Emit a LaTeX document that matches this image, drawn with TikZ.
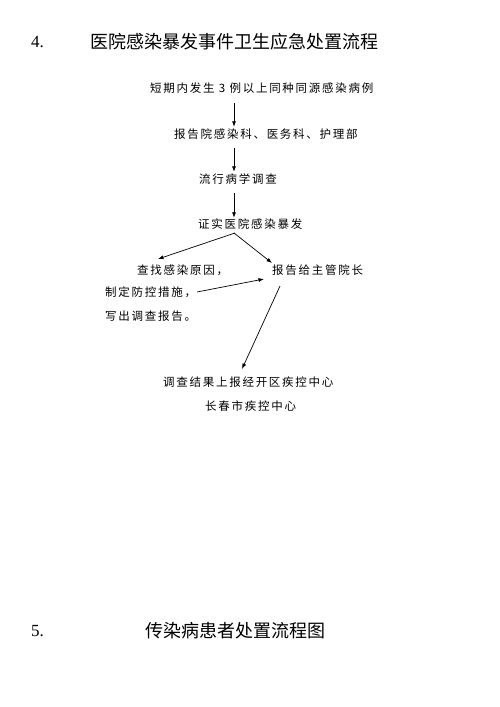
\documentclass[tikz,border=0pt]{standalone}
\usepackage{fontspec}
\setmainfont{Liberation Serif}
\newfontfamily\cjk{Noto Sans CJK SC}
\newfontfamily\cjksp[LetterSpace=15]{Noto Sans CJK SC}
\usetikzlibrary{arrows.meta}
\begin{document}
\begin{tikzpicture}[x=1pt,y=-1pt,
  titletext/.style={font=\cjk\fontsize{18}{20}\selectfont, anchor=west, inner sep=0},
  numtext/.style={font=\fontsize{17}{20}\selectfont, anchor=west, inner sep=0},
  flow/.style={font=\cjksp\fontsize{11.5}{13}\selectfont, anchor=west, inner sep=0, text height=9pt, text depth=2pt},
  arr/.style={-{Latex[length=5.5pt,width=4pt]}, line width=0.7pt}]
\useasboundingbox (0,0) rectangle (500,707);
\fill[white] (0,0) rectangle (500,707);

\node[numtext] (n4) at (31,42) {4.};
\node[titletext] (t4) at (90,42) {医院感染暴发事件卫生应急处置流程};

\node[flow] (s1) at (150,89) {短期内发生 3 例以上同种同源感染病例};
\node[flow] (s2) at (174,135) {报告院感染科、医务科、护理部};
\node[flow] (s3) at (199,180) {流行病学调查};
\node[flow] (s4) at (198,225) {证实医院感染暴发};
\node[flow] (s5) at (137,271) {查找感染原因，};
\node[flow] (s6) at (105,293) {制定防控措施，};
\node[flow] (s7) at (105,317) {写出调查报告。};
\node[flow] (s8) at (272,271) {报告给主管院长};
\node[flow] (s9) at (163,383) {调查结果上报经开区疾控中心};
\node[flow] (s10) at (205,407) {长春市疾控中心};

\node[numtext] (n5) at (31,631) {5.};
\node[titletext] (t5) at (145,631) {传染病患者处置流程图};

\coordinate (axis) at (234,0);
\draw[arr, shorten <=8.5pt, shorten >=2.5pt] (s1.south -| axis) -- (s2.north -| axis);
\draw[arr, shorten <=7.5pt, shorten >=2.5pt] (s2.south -| axis) -- (s3.north -| axis);
\draw[arr, shorten <=7.5pt, shorten >=1.5pt] (s3.south -| axis) -- (s4.north -| axis);

\coordinate (lstart) at (235,233);
\coordinate (lend) at (158,259);
\coordinate (rstart) at (234,233);
\coordinate (rend) at (272,263);
\coordinate (mstart) at (197,292);
\coordinate (mend) at (264,279);
\coordinate (dstart) at (280,286);
\coordinate (dend) at (242,369);
\draw[arr] (lstart) -- (lend);
\draw[arr] (rstart) -- (rend);
\draw[arr] (mstart) -- (mend);
\draw[arr] (dstart) -- (dend);
\end{tikzpicture}
\end{document}
